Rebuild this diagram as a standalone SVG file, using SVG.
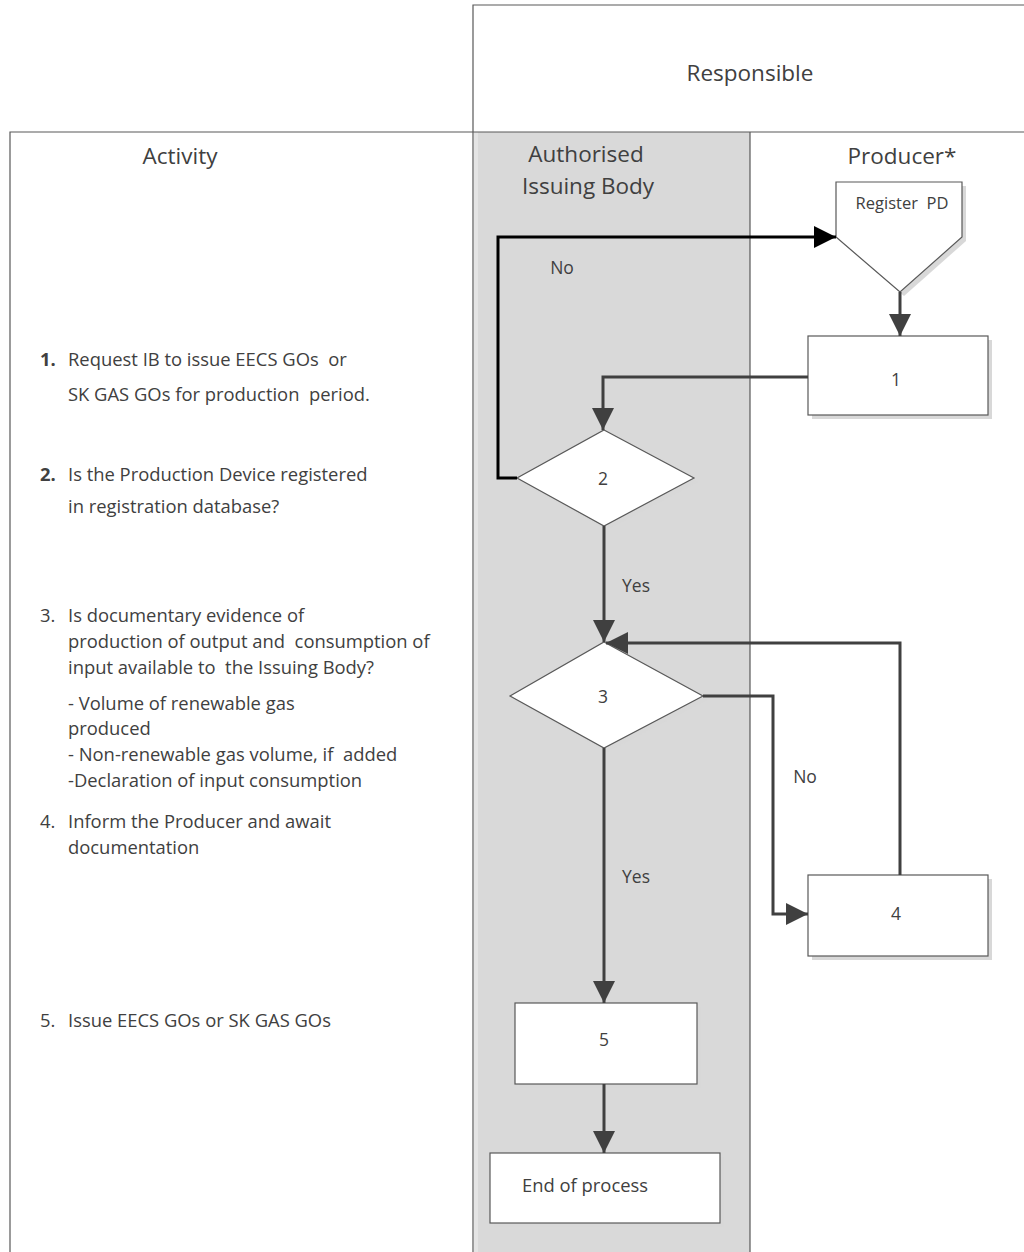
<svg xmlns="http://www.w3.org/2000/svg" width="1024" height="1252" viewBox="0 0 1024 1252">
<defs>
<marker id="arr" viewBox="0 0 20 20" refX="20" refY="10" markerWidth="22" markerHeight="22" markerUnits="userSpaceOnUse" orient="auto">
<path d="M0,0 L20,10 L0,20 z" fill="#404040"/>
</marker>
<marker id="arrb" viewBox="0 0 20 20" refX="20" refY="10" markerWidth="22" markerHeight="22" markerUnits="userSpaceOnUse" orient="auto">
<path d="M0,0 L20,10 L0,20 z" fill="#000"/>
</marker>
</defs>
<style>
text{font-family:"Open Sans","Liberation Sans",sans-serif;fill:#404040;white-space:pre}
.t{font-size:18.4px}
.h{font-size:22.5px}
.n{font-size:17.5px;text-anchor:middle}
.box{fill:#fff;stroke:#595959;stroke-width:1.2}
.sh{fill:#d8d8d8}
.c{fill:none;stroke:#404040;stroke-width:3}
.cb{fill:none;stroke:#000;stroke-width:3}
.frame{fill:none;stroke:#595959;stroke-width:1.2}
</style>
<rect x="0" y="0" width="1024" height="1252" fill="#fff"/>
<g id="lanes">
<rect x="474" y="132" width="276" height="1120" fill="#d9d9d9"/>
<rect x="474" y="132" width="4" height="1120" fill="#e4e4e4"/>
<path class="frame" d="M473,1252 V5 H1024 M10,1252 V132 H1024 M750,132 V1252"/>
<text class="h" x="750" y="81" text-anchor="middle">Responsible</text>
<text class="h" x="180" y="164" text-anchor="middle">Activity</text>
<text class="h" x="586" y="162" text-anchor="middle">Authorised</text>
<text class="h" x="588" y="194" text-anchor="middle">Issuing Body</text>
<text class="h" x="902" y="164" text-anchor="middle">Producer*</text>
</g>
<g id="activity-text">
<text class="t" x="40" y="366"><tspan font-weight="bold">1.</tspan><tspan x="68">Request IB to issue EECS GOs  or</tspan></text>
<text class="t" x="68" y="401">SK GAS GOs for production  period.</text>
<text class="t" x="40" y="481"><tspan font-weight="bold">2.</tspan><tspan x="68">Is the Production Device registered</tspan></text>
<text class="t" x="68" y="513">in registration database?</text>
<text class="t" x="40" y="622">3.<tspan x="68">Is documentary evidence of</tspan></text>
<text class="t" x="68" y="648">production of output and  consumption of</text>
<text class="t" x="68" y="674">input available to  the Issuing Body?</text>
<text class="t" x="68" y="710">- Volume of renewable gas</text>
<text class="t" x="68" y="735">produced</text>
<text class="t" x="68" y="761">- Non-renewable gas volume, if  added</text>
<text class="t" x="68" y="787">-Declaration of input consumption</text>
<text class="t" x="40" y="828">4.<tspan x="68">Inform the Producer and await</tspan></text>
<text class="t" x="68" y="854">documentation</text>
<text class="t" x="40" y="1027">5.<tspan x="68">Issue EECS GOs or SK GAS GOs</tspan></text>
</g>
<g id="node-register">
<polygon class="sh" points="840,186 966,186 966,241 904,296 840,241"/>
<polygon class="box" points="836,182 962,182 962,237 900,292 836,237"/>
<text class="n" x="902" y="209" style="font-size:16.5px">Register  PD</text>
</g>
<g id="node-1">
<rect class="sh" x="812" y="340" width="180" height="79"/>
<rect class="box" x="808" y="336" width="180" height="79"/>
<text class="n" x="896" y="386">1</text>
</g>
<g id="node-2">
<polygon class="sh" points="607,434 698,482 607,530 521,482"/>
<polygon class="box" points="604,430 694,478 604,526 517,478"/>
<text class="n" x="603" y="485">2</text>
</g>
<g id="node-3">
<polygon class="sh" points="607,646 707,700 607,752 514,700"/>
<polygon class="box" points="604,642 703,696 604,748 510,696"/>
<text class="n" x="603" y="703">3</text>
</g>
<g id="node-4">
<rect class="sh" x="812" y="879" width="180" height="81"/>
<rect class="box" x="808" y="875" width="180" height="81"/>
<text class="n" x="896" y="920">4</text>
</g>
<g id="node-5">
<rect class="sh" x="519" y="1007" width="182" height="81"/>
<rect class="box" x="515" y="1003" width="182" height="81"/>
<text class="n" x="604" y="1046">5</text>
</g>
<g id="node-end">
<rect class="sh" x="494" y="1157" width="230" height="70"/>
<rect class="box" x="490" y="1153" width="230" height="70"/>
<text class="t" x="522" y="1192">End of process</text>
</g>
<g id="connectors">
<path class="c" d="M900,292 V336" marker-end="url(#arr)"/>
<path class="c" d="M808,377 H603 V430" marker-end="url(#arr)"/>
<path class="cb" d="M517,478 H498 V237 H836" marker-end="url(#arrb)"/>
<path class="c" d="M604,526 V642" marker-end="url(#arr)"/>
<path class="c" d="M703,696 H773 V914 H808" marker-end="url(#arr)"/>
<path class="c" d="M900,875 V643 H606" marker-end="url(#arr)"/>
<path class="c" d="M604,748 V1003" marker-end="url(#arr)"/>
<path class="c" d="M604,1084 V1153" marker-end="url(#arr)"/>
<text class="n" x="562" y="274">No</text>
<text class="n" x="636" y="592">Yes</text>
<text class="n" x="805" y="783">No</text>
<text class="n" x="636" y="883">Yes</text>
</g>
</svg>
